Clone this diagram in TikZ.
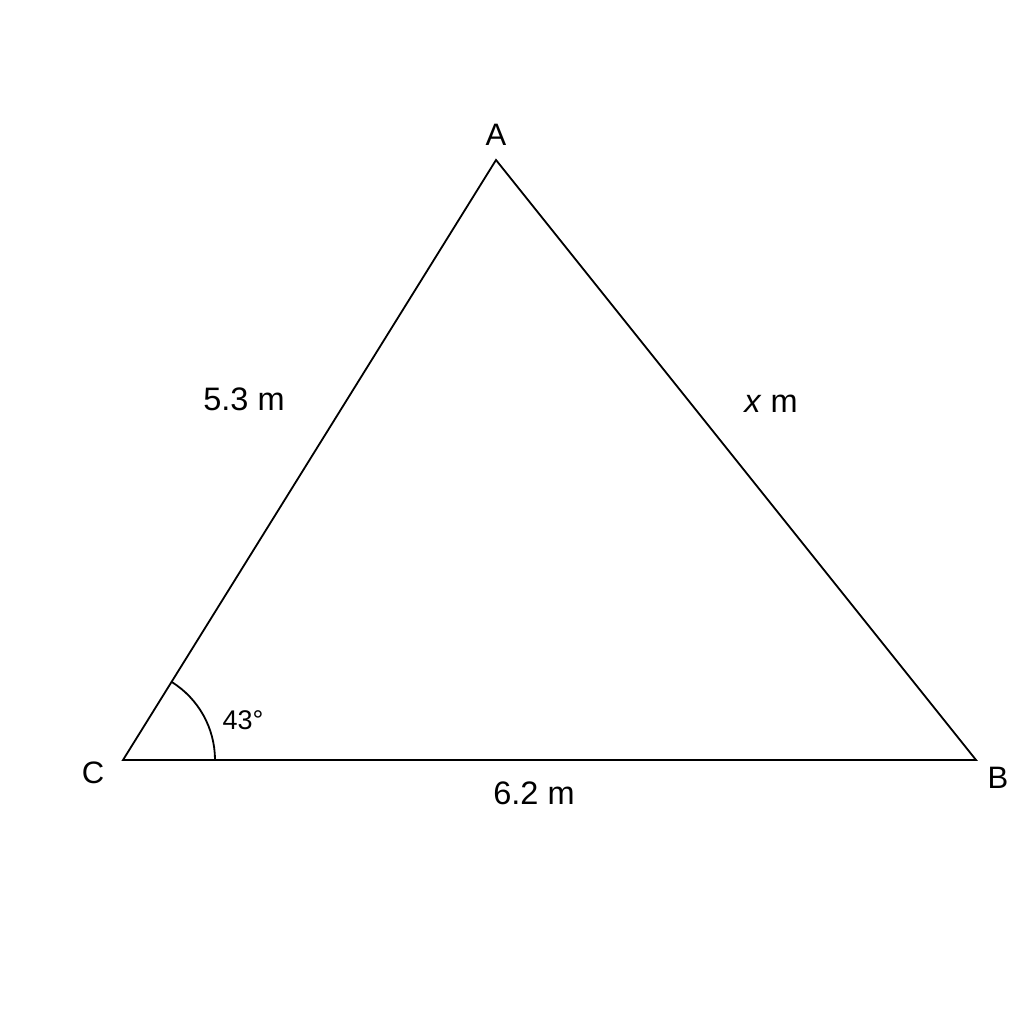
\documentclass[tikz,border=0pt]{standalone}
\usepackage{fontspec}
\setmainfont{Liberation Sans}
\usetikzlibrary{calc}
\tikzset{
  edge/.style={line width=1.8pt, line join=miter},
  vlabel/.style={font=\fontsize{31}{36}\selectfont, inner sep=0pt},
  slabel/.style={font=\fontsize{32.5}{38}\selectfont, inner sep=0pt},
  alabel/.style={font=\fontsize{27}{32}\selectfont, inner sep=0pt}
}
\begin{document}
\begin{tikzpicture}[x=1pt,y=-1pt]
\useasboundingbox (0,0) rectangle (1024,1024);
\fill[white] (0,0) rectangle (1024,1024);
\coordinate (C) at (123,760);
\coordinate (B) at (976,760);
\coordinate (A) at (496,160);
\draw[edge] (C) -- (A) -- (B) -- cycle;
\draw[edge] ($(C)+(92,0)$) arc[start angle=0, end angle=-58.1, radius=92];
\node[vlabel] (lA) at (496,135) {A};
\node[vlabel] (lB) at (998,778) {B};
\node[vlabel] (lC) at (93,773) {C};
\node[slabel] (l53) at (244,399) {5.3 m};
\node[slabel] (lx) at (771,404) {\textit{x} m};
\node[slabel] (l62) at (534,793) {6.2 m};
\node[alabel] (l43) at (243,720) {43°};
\end{tikzpicture}
\end{document}
